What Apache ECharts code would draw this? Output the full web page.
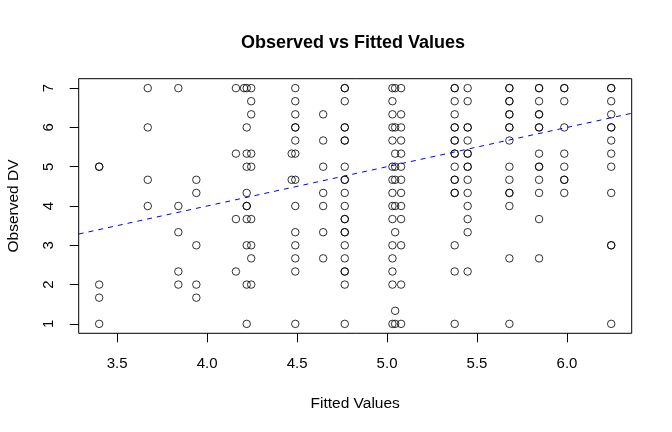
<!DOCTYPE html>
<html>
<head>
<meta charset="utf-8">
<script src="https://cdn.jsdelivr.net/npm/echarts@6/dist/echarts.min.js"></script>
<style>
html,body{margin:0;padding:0;background:#fff;}
#chart{width:672px;height:432px;}
</style>
</head>
<body>
<div id="chart"></div>
<script>
// Fitted value of each column of points
const fitted = [3.40, 3.67, 3.84, 3.94, 4.16, 4.205, 4.22, 4.245, 4.47, 4.49, 4.645, 4.765, 5.03, 5.045, 5.078, 5.376, 5.448, 5.68, 5.845, 5.985, 6.246];
// Observed DV values at each fitted value (duplicates drawn over each other)
const observed = [
  [5, 5, 2, 1.667, 1],
  [7, 6, 4.667, 4],
  [7, 4, 3.333, 2.333, 2],
  [4.667, 4.333, 3, 2, 1.667],
  [7, 5.333, 3.667, 2.333],
  [7],
  [7, 6, 5.333, 5, 4.333, 4, 4, 3.667, 3, 2, 1],
  [7, 6.667, 6.333, 5.333, 5, 3.667, 3, 2.667, 2],
  [5.333, 4.667],
  [7, 6.667, 6.333, 6, 6, 5.667, 5.333, 4.667, 4, 3.333, 3, 2.667, 2.333, 1],
  [6.333, 5.667, 5, 4.333, 4, 3.333, 2.667],
  [7, 7, 6.667, 6, 6, 5.667, 5.667, 5, 4.667, 4.667, 4.333, 4, 3.667, 3.667, 3.333, 3.333, 3, 2.667, 2.333, 2.333, 2, 1],
  [7, 6.667, 6.333, 6, 5.667, 5, 4.667, 4.333, 4, 3.667, 3, 2.667, 2.333, 2, 1],
  [7, 6, 5.333, 5, 4.667, 4, 3.333, 1.333, 1],
  [7, 6.333, 6, 5.667, 5.333, 5, 4.667, 4.333, 4, 3.667, 3, 2, 1],
  [7, 7, 6.667, 6.333, 6, 6, 5.667, 5.667, 5.333, 5.333, 5, 4.667, 4.667, 4.333, 4.333, 3, 2.333, 1],
  [7, 6.667, 6, 6, 5.667, 5.333, 5.333, 5, 5, 4.667, 4.333, 4, 3.667, 3.333, 2.333],
  [7, 7, 6.667, 6.667, 6.333, 6.333, 6, 6, 5.667, 5, 4.667, 4.333, 4.333, 4, 2.667, 1],
  [7, 7, 6.667, 6.333, 6.333, 6, 6, 5.333, 5, 5, 4.667, 4.333, 3.667, 2.667],
  [7, 7, 6.667, 6, 5.333, 5, 4.667, 4.667, 4.333],
  [7, 7, 6.667, 6.333, 6, 6, 5.667, 5.333, 5, 4.333, 3, 3, 1]
];
// Fitted reference line: observed = intercept + slope * fitted
const fitCoef = [0, 1];
const xTicks = [3.5, 4.0, 4.5, 5.0, 5.5, 6.0];
const yTicks = [1, 2, 3, 4, 5, 6, 7];

const points = [];
fitted.forEach((fx, i) => observed[i].forEach(v => points.push([fx, v])));

function padRange(vals) {
  const lo = Math.min(...vals), hi = Math.max(...vals);
  const d = (hi - lo) * 0.04;
  return [lo - d, hi + d];
}
const xr = padRange(points.map(p => p[0]));
const yr = padRange(points.map(p => p[1]));
const linePts = [xr[0], xr[1]].map(x => [x, fitCoef[0] + fitCoef[1] * x]);

const FONT = "'Liberation Sans', Arial, Helvetica, sans-serif";
const chart = echarts.init(document.getElementById('chart'), null, {renderer: 'canvas'});
chart.setOption({
  animation: false,
  backgroundColor: '#fff',
  title: {
    text: 'Observed vs Fitted Values',
    left: 241, top: 34, padding: 0,
    textStyle: {fontFamily: FONT, fontSize: 18, fontWeight: 'bold', color: '#000'}
  },
  grid: {
    left: 78.7, right: 40.3, top: 78.7, bottom: 98.7,
    show: true, borderColor: '#000', borderWidth: 1, backgroundColor: 'transparent',
    containLabel: false, outerBoundsMode: 'none'
  },
  xAxis: {
    type: 'value', min: xr[0], max: xr[1],
    name: 'Fitted Values', nameLocation: 'middle', nameGap: 62,
    nameTextStyle: {fontFamily: FONT, fontSize: 15.5, color: '#000'},
    axisLine: {show: false},
    splitLine: {show: false},
    axisTick: {show: true, inside: false, length: 9, customValues: xTicks, lineStyle: {color: '#000', width: 1}},
    axisLabel: {customValues: xTicks, margin: 23, fontFamily: FONT, fontSize: 15, color: '#000',
      formatter: v => v.toFixed(1)}
  },
  yAxis: {
    type: 'value', min: yr[0], max: yr[1],
    name: 'Observed DV', nameLocation: 'middle', nameGap: 57, nameRotate: 90,
    nameTextStyle: {fontFamily: FONT, fontSize: 15.5, color: '#000'},
    axisLine: {show: false},
    splitLine: {show: false},
    axisTick: {show: true, inside: false, length: 9, customValues: yTicks, lineStyle: {color: '#000', width: 1}},
    axisLabel: {customValues: yTicks, margin: 22, rotate: 90, fontFamily: FONT, fontSize: 15, color: '#000',
      formatter: v => String(v)}
  },
  series: [
    {
      type: 'scatter', data: points, symbol: 'circle', symbolSize: 7.5,
      itemStyle: {color: 'rgba(0,0,0,0)', borderColor: '#000', borderWidth: 1},
      emphasis: {disabled: true}, silent: true, z: 2
    },
    {
      type: 'line', data: linePts, showSymbol: false, symbol: 'none',
      lineStyle: {color: '#0000ff', width: 1, type: [5, 5]},
      emphasis: {disabled: true}, silent: true, z: 3
    }
  ]
});
</script>
</body>
</html>
